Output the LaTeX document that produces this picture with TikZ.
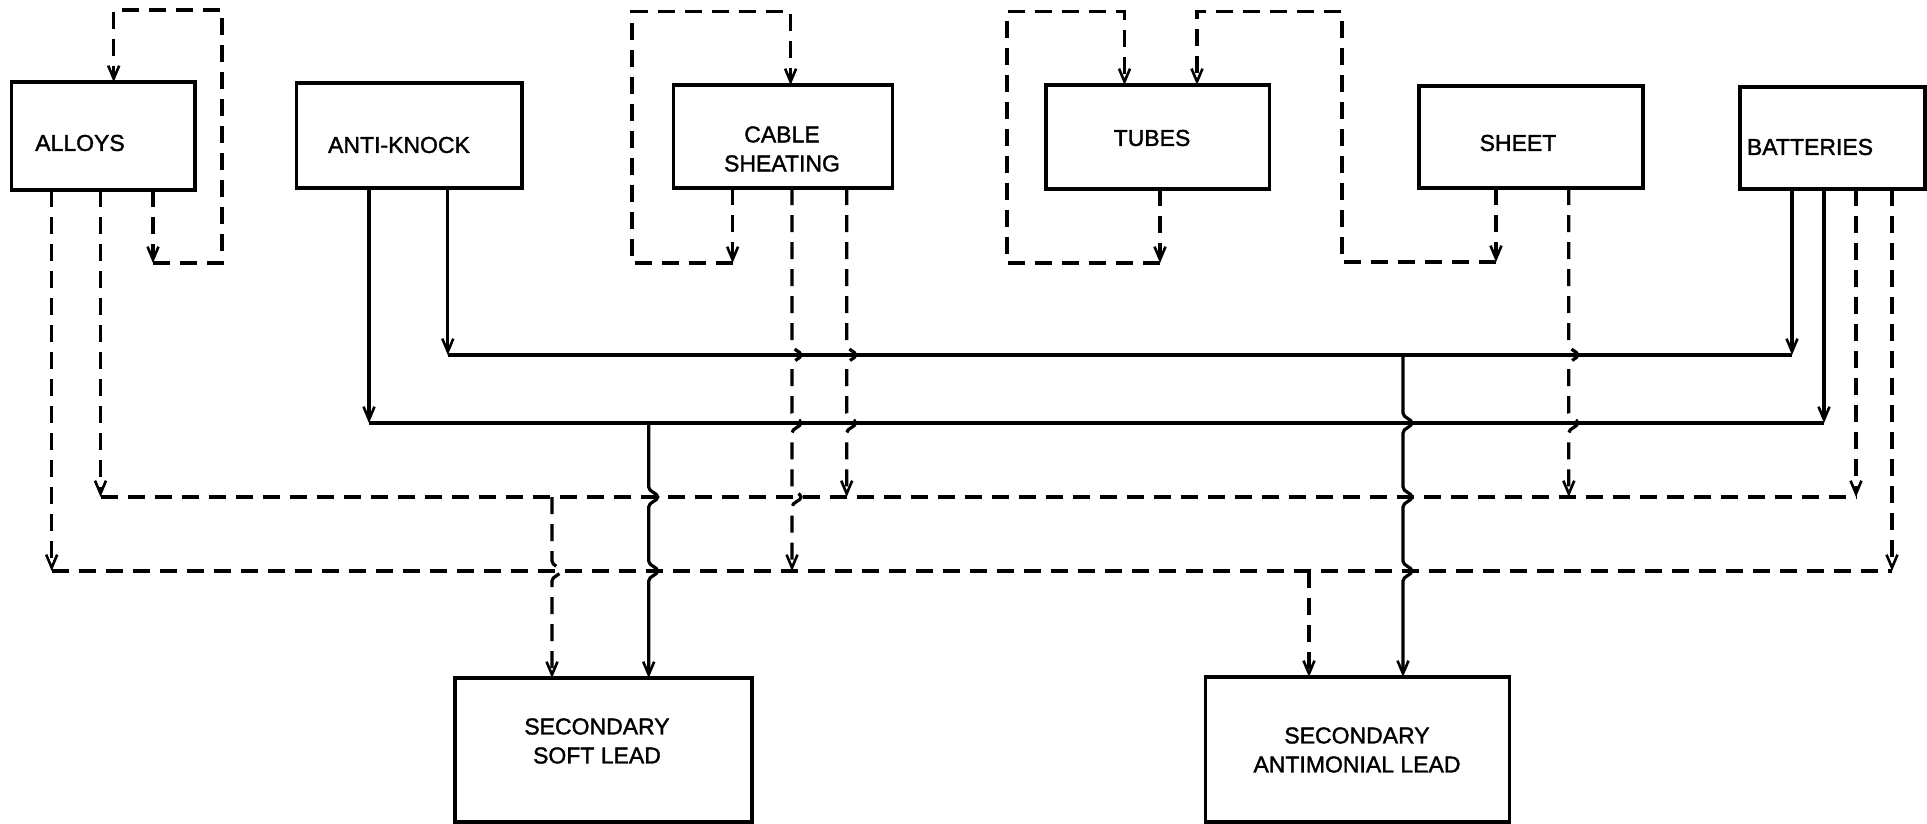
\documentclass[tikz,border=0pt]{standalone}
\usepackage{fontspec}
\newfontfamily\lett{Liberation Sans}[FakeBold=1.5]
\usetikzlibrary{arrows.meta}
\tikzset{
  box/.style={draw, line width=3.4pt, inner sep=0pt, outer sep=0pt},
  lbl/.style={font=\lett\fontsize{23}{29}\selectfont, align=center, inner sep=0pt},
  sol/.style={line width=3.2pt},
  dsh/.style={line width=3.2pt, dash pattern=on 17pt off 10pt},
  arr/.style={-{Straight Barb[length=13pt,width=11pt,line width=2.6pt]}},
  jmp/.style={to path={.. controls +(0,5) and +(0,-4) .. ++(9,10) .. controls +(0,4) and +(0,-5) .. ++(-9,10)}},
}
\begin{document}
\begin{tikzpicture}[x=1pt,y=-1pt]
\useasboundingbox (0,0) rectangle (1927,824);
% boxes
\node[box,minimum width=183.5pt,minimum height=108pt] (alloys) at (103.3,136) {};
\node[lbl] (alloysT) at (80,143) {ALLOYS};
\node[box,minimum width=225.4pt,minimum height=105pt] (antiknock) at (409.3,135.5) {};
\node[lbl] (antiknockT) at (399,145) {ANTI-KNOCK};
\node[box,minimum width=218.7pt,minimum height=103pt] (cable) at (783,136.5) {};
\node[lbl] (cableT) at (782,149) {CABLE\\SHEATING};
\node[box,minimum width=223.6pt,minimum height=104pt] (tubes) at (1157.8,137) {};
\node[lbl] (tubesT) at (1152,138) {TUBES};
\node[box,minimum width=224pt,minimum height=102pt] (sheet) at (1531,137) {};
\node[lbl] (sheetT) at (1518,143) {SHEET};
\node[box,minimum width=185pt,minimum height=102pt] (batteries) at (1832.5,138) {};
\node[lbl] (batteriesT) at (1810,147) {BATTERIES};
\node[box,minimum width=297pt,minimum height=144pt] (soft) at (603.5,750) {};
\node[lbl] (softT) at (597,741) {SECONDARY\\SOFT LEAD};
\node[box,minimum width=304pt,minimum height=145pt] (antim) at (1357.6,749.5) {};
\node[lbl] (antimT) at (1357,750) {SECONDARY\\ANTIMONIAL LEAD};
% coordinates
\coordinate (aL) at (153,263);
\coordinate (cL) at (732.6,263);
\coordinate (tL) at (1160,263);
\coordinate (sL) at (1496,262);
\coordinate (s1L) at (447.8,355); \coordinate (s1R) at (1792,355);
\coordinate (s2L) at (369,423);   \coordinate (s2R) at (1824,423);
\coordinate (d1L) at (100.5,497); \coordinate (d1R) at (1856,497);
\coordinate (d2L) at (51.7,571);  \coordinate (d2R) at (1892,571);
\coordinate (c1) at (846.7,497);
\coordinate (c2) at (792,571);
\coordinate (sh1) at (1568.8,497);
\coordinate (t1) at (1403,355);
\coordinate (t2) at (648.7,423);
\coordinate (t3) at (552,497);
\coordinate (t4) at (1309,571);
% self loops
\draw[dsh,arr] (alloys.south -| aL) -- (aL);
\draw[dsh,arr] (aL) -| (222,10) -| (alloys.north -| 113.7,0);
\draw[dsh,arr] (cable.south -| cL) -- (cL);
\draw[dsh,arr] (cL) -| (632,11.7) -| (cable.north -| 790.6,0);
\draw[dsh,arr] (tubes.south -| tL) -- (tL);
\draw[dsh,arr] (tL) -| (1007,11.7) -| (tubes.north -| 1124.5,0);
\draw[dsh,arr] (sheet.south -| sL) -- (sL);
\draw[dsh,arr] (sL) -| (1342,11.7) -| (tubes.north -| 1197,0);
% buses
\draw[sol] (s1L) -- (s1R);
\draw[sol] (s2L) -- (s2R);
\draw[dsh] (d1L) -- (d1R);
\draw[dsh] (d2L) -- (d2R);
% feeds
\draw[dsh,arr] (alloys.south -| d2L) -- (d2L);
\draw[dsh,arr] (alloys.south -| d1L) -- (d1L);
\draw[sol,arr] (antiknock.south -| s2L) -- (s2L);
\draw[sol,arr] (antiknock.south -| s1L) -- (s1L);
\draw[dsh,arr] (cable.south -| c2) -- (792,345) to[jmp] (792,365) -- (792,413) to[jmp] (792,433)
   -- (792,487) to[jmp] (792,507) -- (c2);
\draw[dsh,arr] (cable.south -| c1) -- (846.7,345) to[jmp] (846.7,365) -- (846.7,413) to[jmp] (846.7,433) -- (c1);
\draw[dsh,arr] (sheet.south -| sh1) -- (1568.8,345) to[jmp] (1568.8,365) -- (1568.8,413) to[jmp] (1568.8,433) -- (sh1);
\draw[sol,arr] (batteries.south -| s1R) -- (s1R);
\draw[sol,arr] (batteries.south -| s2R) -- (s2R);
\draw[dsh,arr] (batteries.south -| d1R) -- (d1R);
\draw[dsh,arr] (batteries.south -| d2R) -- (d2R);
% taps to secondary boxes
\draw[sol,arr] (t1) -- (1403,413) to[jmp] (1403,433) -- (1403,487) to[jmp] (1403,507)
   -- (1403,561) to[jmp] (1403,581) -- (antim.north -| t1);
\draw[dsh,arr] (t4) -- (antim.north -| t4);
\draw[sol,arr] (t2) -- (648.7,487) to[jmp] (648.7,507) -- (648.7,561) to[jmp] (648.7,581) -- (soft.north -| t2);
\draw[dsh,arr] (t3) -- (552,561) to[jmp] (552,581) -- (soft.north -| t3);
\end{tikzpicture}
\end{document}
